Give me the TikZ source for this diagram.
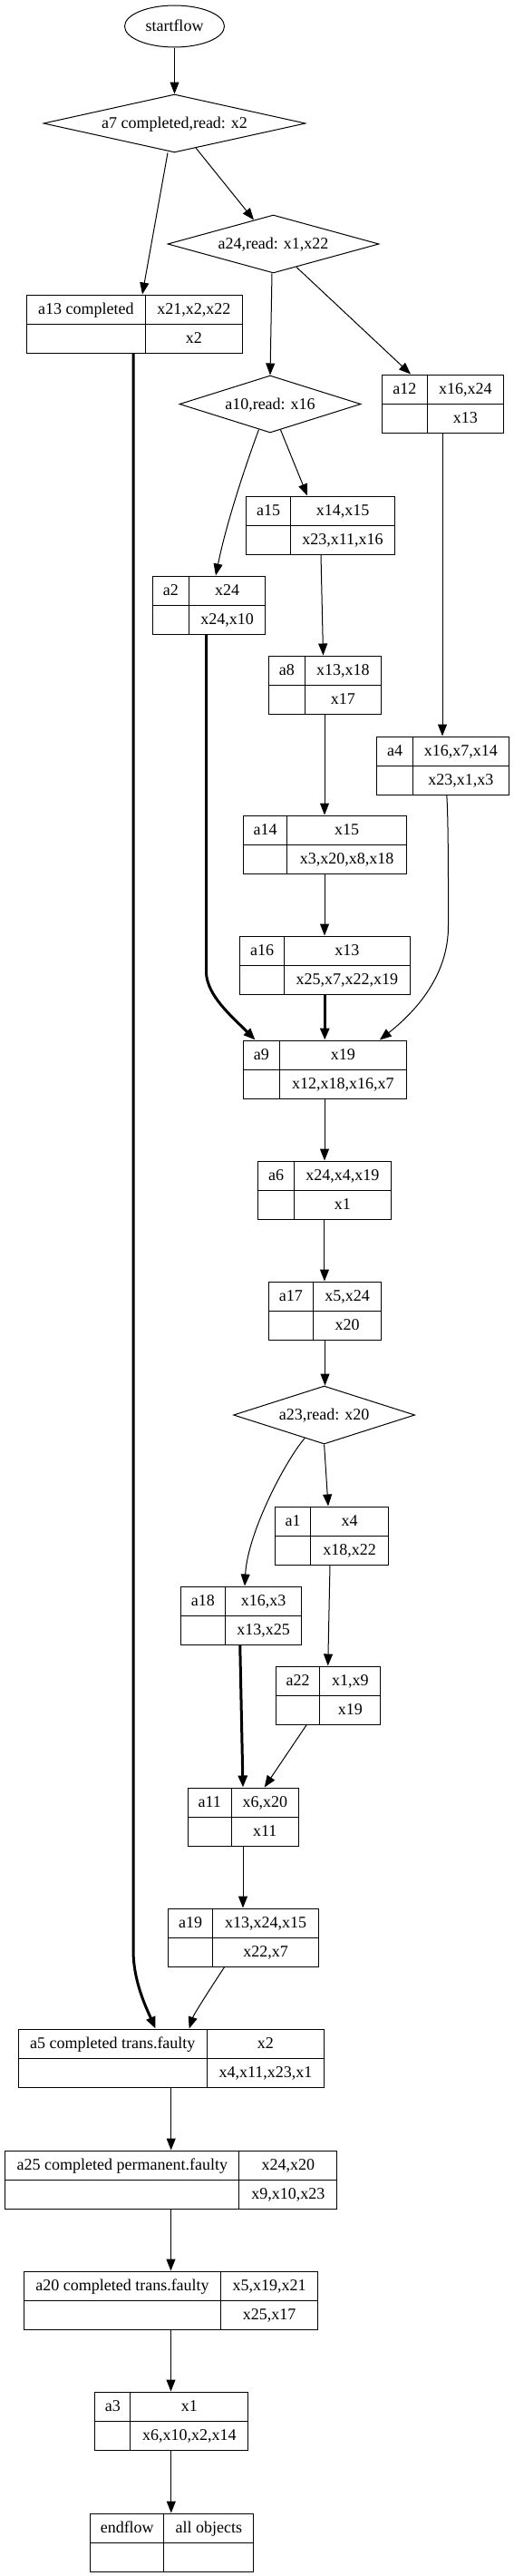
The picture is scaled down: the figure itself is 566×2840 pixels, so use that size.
\documentclass[tikz,border=0pt]{standalone}
\usepackage{fontspec}
\setmainfont{Liberation Serif}
\usetikzlibrary{arrows.meta,shapes.geometric}
\tikzset{
  lbl/.style={font=\fontsize{18}{20}\selectfont, text height=13pt, text depth=2pt},
  boxframe/.style={draw, rectangle, line width=1pt, inner sep=0pt, minimum height=64pt},
  boxline/.style={line width=1pt},
  txt/.style={lbl, inner sep=0pt},
  dia/.style={draw, diamond, aspect=3.5, inner sep=0pt, line width=1pt, lbl},
  oval/.style={draw, ellipse, inner sep=0pt, line width=1pt, lbl},
  edge/.style={line width=1pt, -{Triangle[length=13pt,width=10pt]}},
  thickedge/.style={line width=3pt, -{Triangle[length=13pt,width=10pt]}},
}
% name, x left, x divider, x right, y top, label, top set, bottom set
\newcommand\recbox[8]{%
  \node[boxframe, minimum width={(#4-#2)*1pt}] (#1) at ({(#2+#4)/2},{#5+32}) {};
  \draw[boxline] ([xshift={(#3-#2)*1pt}]#1.north west) -- ([xshift={(#3-#2)*1pt}]#1.south west);
  \draw[boxline] (#1.west) -- (#1.east);
  \node[txt] (#1-l) at ({(#2+#3)/2},{#5+16}) {#6};
  \node[txt] (#1-t) at ({(#3+#4)/2},{#5+16}) {#7};
  \node[txt] (#1-b) at ({(#3+#4)/2},{#5+48}) {#8};
}
\begin{document}
\begin{tikzpicture}[x=1pt,y=-1pt]
\fill[white] (0,0) rectangle (566,2840);
\useasboundingbox (0,0) rectangle (566,2840);

\node[oval, minimum width=110pt, minimum height=46pt] (startflow) at (192.5,29) {startflow};
\node[dia, minimum width=289pt, minimum height=64pt] (a7) at (192.5,136) {a7 completed,read: x2};
\node[dia, minimum width=233pt, minimum height=64pt] (a24) at (301.5,269) {a24,read: x1,x22};
\node[dia, minimum width=200pt, minimum height=63pt] (a10) at (298,445.5) {a10,read: x16};
\node[dia, minimum width=200pt, minimum height=64pt] (a23) at (357.6,1560) {a23,read: x20};

\recbox{a13}{29}{160.5}{267}{325}{a13 completed}{x21,x2,x22}{x2}
\recbox{a12}{421}{471.5}{555}{413}{a12}{x16,x24}{x13}
\recbox{a15}{271.5}{320.5}{435.5}{547}{a15}{x14,x15}{x23,x11,x16}
\recbox{a2}{168}{208.7}{292.5}{635}{a2}{x24}{x24,x10}
\recbox{a8}{296}{336.5}{420}{723}{a8}{x13,x18}{x17}
\recbox{a4}{415.5}{455.6}{561}{812}{a4}{x16,x7,x14}{x23,x1,x3}
\recbox{a14}{268}{317}{448}{899}{a14}{x15}{x3,x20,x8,x18}
\recbox{a16}{264.5}{313.7}{452}{1032}{a16}{x13}{x25,x7,x22,x19}
\recbox{a9}{268}{308.7}{448}{1147}{a9}{x19}{x12,x18,x16,x7}
\recbox{a6}{284.5}{324.5}{431.4}{1280}{a6}{x24,x4,x19}{x1}
\recbox{a17}{296.4}{345.5}{420.6}{1413}{a17}{x5,x24}{x20}
\recbox{a1}{303}{343.3}{428}{1661}{a1}{x4}{x18,x22}
\recbox{a18}{199}{248.7}{332.5}{1749}{a18}{x16,x3}{x13,x25}
\recbox{a22}{304}{353.4}{419.5}{1837}{a22}{x1,x9}{x19}
\recbox{a11}{207}{255.6}{329}{1971}{a11}{x6,x20}{x11}
\recbox{a19}{185}{235.4}{351}{2104}{a19}{x13,x24,x15}{x22,x7}
\recbox{a5}{20}{228.5}{357.4}{2237}{a5 completed trans.faulty}{x2}{x4,x11,x23,x1}
\recbox{a25}{5.4}{264.3}{371.5}{2371}{a25 completed permanent.faulty}{x24,x20}{x9,x10,x23}
\recbox{a20}{26.5}{243.5}{350.5}{2504}{a20 completed trans.faulty}{x5,x19,x21}{x25,x17}
\recbox{a3}{104.3}{144.4}{273.3}{2637}{a3}{x1}{x6,x10,x2,x14}
\recbox{endflow}{99.3}{181.2}{279.4}{2771}{endflow}{all objects}{}

\draw[edge] (startflow.south) -- (a7.north);
\draw[edge] ([xshift=-7.5pt]a7.south) -- ([xshift=9pt]a13.north);
\draw[edge] (a7.-49.6) -- (a24.129.6);
\draw[edge] ([xshift=-1.5pt]a24.south) -- (a10.north);
\draw[edge] (a24.-45) -- ([xshift=-35pt]a12.north);
\draw[edge] (a10.-114) .. controls (272,510) and (250,575) .. ([xshift=7.75pt]a2.north);
\draw[edge] (a10.-68) -- ([xshift=-14.5pt]a15.north);
\draw[edge] ([xshift=0.5pt]a15.south) -- ([xshift=-1.5pt]a8.north);
\draw[edge] (a8.south) -- (a8.south |- a14.north);
\draw[edge] (a14.south) -- (a14.south |- a16.north);
\draw[thickedge] (a16.south) -- (a16.south |- a9.north);
\draw[thickedge] ([xshift=-2.75pt]a2.south) -- (227.5,1073) .. controls (229,1098) and (255,1120) .. ([xshift=-76.4pt]a9.north);
\draw[edge] (a12.south) -- (a12.south |- a4.north);
\draw[edge] ([xshift=4.5pt]a4.south) .. controls (494.6,900) and (494.6,980) .. (494.5,1020) .. controls (495,1070) and (465,1110) .. ([xshift=60.8pt]a9.north);
\draw[edge] (a9.south) -- (a9.south |- a6.north);
\draw[edge] (a6.south) -- (a6.south |- a17.north);
\draw[edge] (a17.south) -- (a17.south |- a23.north);
\draw[edge] (a23.-130) .. controls (315,1610) and (273,1690) .. ([xshift=4.25pt]a18.north);
\draw[edge] (a23.south) -- ([xshift=-3.5pt]a1.north);
\draw[edge] ([xshift=-1.5pt]a1.south) -- (a22.north);
\draw[thickedge] ([xshift=-1pt]a18.south) -- (a11.north);
\draw[edge] ([xshift=-23.5pt]a22.south) -- ([xshift=23.7pt]a11.north);
\draw[edge] (a11.south) -- (a11.south |- a19.north);
\draw[thickedge] ([xshift=-1pt]a13.south) -- (147,2150) .. controls (147,2185) and (162,2215) .. ([xshift=-17.2pt]a5.north);
\draw[edge] ([xshift=-20.3pt]a19.south) .. controls (240,2180) and (214,2220) .. ([xshift=20pt]a5.north);
\draw[edge] (a5.south) -- (a5.south |- a25.north);
\draw[edge] (a25.south) -- (a25.south |- a20.north);
\draw[edge] (a20.south) -- (a20.south |- a3.north);
\draw[edge] (a3.south) -- (a3.south |- endflow.north);
\end{tikzpicture}
\end{document}
